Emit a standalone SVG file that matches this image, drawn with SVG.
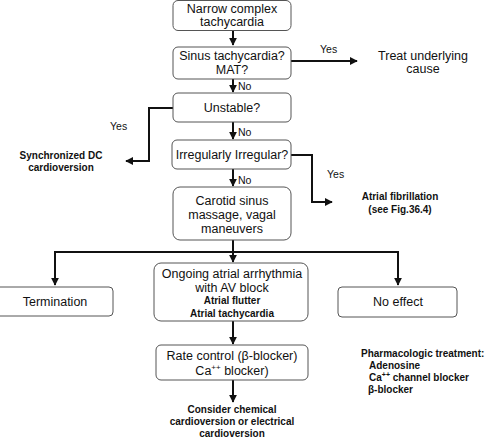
<svg xmlns="http://www.w3.org/2000/svg" width="500" height="441" viewBox="0 0 500 441">
<defs>
<marker id="ah" viewBox="0 0 10 10" refX="9" refY="5" markerWidth="4" markerHeight="4" orient="auto"><path d="M0,0 L10,5 L0,10 z" fill="#111"/></marker>
<style>
.box{fill:#fff;stroke:#555;stroke-width:1}
.t{font-family:"Liberation Sans",Arial,sans-serif;font-size:12.5px;fill:#111;text-anchor:middle}
.b{font-family:"Liberation Sans",Arial,sans-serif;font-size:10px;font-weight:bold;fill:#111;text-anchor:middle}
.s{font-family:"Liberation Sans",Arial,sans-serif;font-size:10.5px;fill:#111}
.bl{font-family:"Liberation Sans",Arial,sans-serif;font-size:10px;font-weight:bold;fill:#111}
.c{fill:none;stroke:#111;stroke-width:2}
</style>
</defs>
<rect width="500" height="441" fill="#fff"/>
<g id="connectors">
<path class="c" d="M233,30 V45" marker-end="url(#ah)"/>
<path class="c" d="M291,61 H357" marker-end="url(#ah)"/>
<path class="c" d="M233,79 V92" marker-end="url(#ah)"/>
<path class="c" d="M173,108 H149 V161 H126" marker-end="url(#ah)"/>
<path class="c" d="M233,122 V139" marker-end="url(#ah)"/>
<path class="c" d="M291,155 H312 V202 H332" marker-end="url(#ah)"/>
<path class="c" d="M233,169 V186" marker-end="url(#ah)"/>
<path class="c" d="M233,240 V262" marker-end="url(#ah)"/>
<path class="c" d="M55,285 V252 H398 V285" marker-end="url(#ah)"/>
<path class="c" d="M55,252 V285" marker-end="url(#ah)"/>
<path class="c" d="M233,321 V344" marker-end="url(#ah)"/>
<path class="c" d="M233,380 V402" marker-end="url(#ah)"/>
<text class="s" x="320" y="53">Yes</text>
<text class="s" x="238" y="90">No</text>
<text class="s" x="110" y="130">Yes</text>
<text class="s" x="238" y="136">No</text>
<text class="s" x="327" y="178">Yes</text>
<text class="s" x="238" y="184">No</text>
</g>
<g id="n1"><rect class="box" x="173" y="0.5" width="118" height="30" rx="5"/><text class="t" x="232" y="13">Narrow complex</text><text class="t" x="232" y="26">tachycardia</text></g>
<g id="n2"><rect class="box" x="173" y="47" width="118" height="32" rx="5"/><text class="t" x="232" y="60">Sinus tachycardia?</text><text class="t" x="232" y="74">MAT?</text></g>
<g id="n3"><text class="t" x="423" y="60">Treat underlying</text><text class="t" x="423" y="73">cause</text></g>
<g id="n4"><rect class="box" x="173" y="93" width="118" height="29" rx="5"/><text class="t" x="232" y="112">Unstable?</text></g>
<g id="n5"><text class="b" x="61" y="159">Synchronized DC</text><text class="b" x="61" y="171">cardioversion</text></g>
<g id="n6"><rect class="box" x="172" y="140" width="119" height="29" rx="5"/><text class="t" x="232" y="159">Irregularly Irregular?</text></g>
<g id="n7"><text class="b" x="400" y="200">Atrial fibrillation</text><text class="b" x="400" y="213">(see Fig.36.4)</text></g>
<g id="n8"><rect class="box" x="173" y="187" width="118" height="53" rx="7"/><text class="t" x="232" y="205">Carotid sinus</text><text class="t" x="232" y="219">massage, vagal</text><text class="t" x="232" y="233">maneuvers</text></g>
<g id="n9"><rect class="box" x="-5" y="287" width="118" height="29" rx="4"/><text class="t" x="55" y="306">Termination</text></g>
<g id="n10"><rect class="box" x="154" y="263" width="154" height="58" rx="7"/><text class="t" x="232" y="278">Ongoing atrial arrhythmia</text><text class="t" x="232" y="292">with AV block</text><text class="b" x="232" y="304">Atrial flutter</text><text class="b" x="232" y="317">Atrial tachycardia</text></g>
<g id="n11"><rect class="box" x="338" y="287" width="119" height="30" rx="4"/><text class="t" x="398" y="306">No effect</text></g>
<g id="n12"><rect class="box" x="156" y="345" width="152" height="35" rx="5"/><text class="t" x="232" y="360">Rate control (β-blocker)</text><text class="t" x="232" y="375">Ca<tspan dy="-5" font-size="8">++</tspan><tspan dy="5"> blocker)</tspan></text></g>
<g id="n13"><text class="b" x="232" y="413">Consider chemical</text><text class="b" x="232" y="425">cardioversion or electrical</text><text class="b" x="232" y="437">cardioversion</text></g>
<g id="n14"><text class="bl" x="361" y="357">Pharmacologic treatment:</text><text class="bl" x="369" y="369">Adenosine</text><text class="bl" x="369" y="381">Ca<tspan dy="-4" font-size="7">++</tspan><tspan dy="4"> channel blocker</tspan></text><text class="bl" x="368" y="393">β-blocker</text></g>
</svg>
